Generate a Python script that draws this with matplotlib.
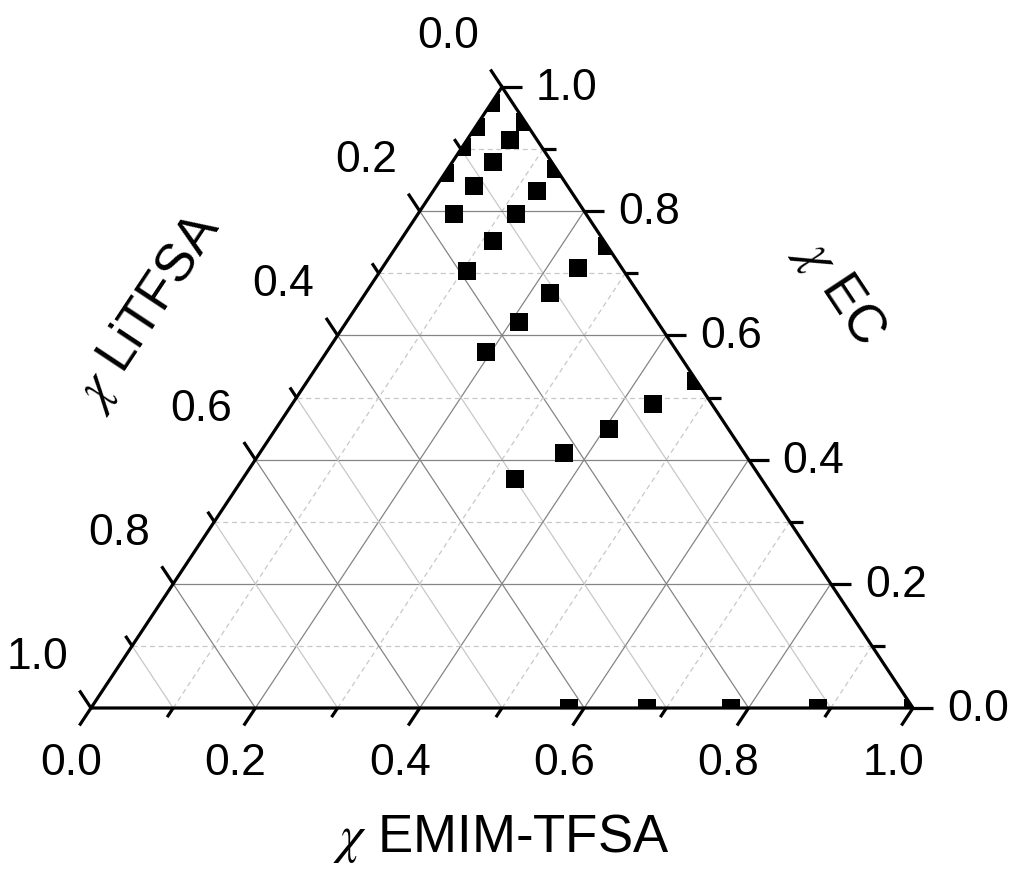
import matplotlib
matplotlib.use('Agg')
import matplotlib.pyplot as plt
from matplotlib.patches import Polygon
import numpy as np

plt.rcParams['font.family'] = ['Liberation Sans', 'DejaVu Sans']
plt.rcParams['mathtext.fontset'] = 'stix'

# mole fractions; x LiTFSA = 1 - EMIM-TFSA - EC
# EC-LiTFSA edge (no EMIM-TFSA)
emim_s0 = [0.0, 0.0, 0.0, 0.0]
ec_s0 = [0.862, 0.903, 0.936, 0.974]
# EC:EMIM ~ 18
emim_s1 = [0.044, 0.046, 0.049, 0.052, 0.056]
ec_s1 = [0.795, 0.840, 0.880, 0.915, 0.944]
# EC:EMIM ~ 6.6
emim_s2 = [0.105, 0.113, 0.120, 0.126, 0.132]
ec_s2 = [0.704, 0.752, 0.795, 0.833, 0.868]
# EC:EMIM ~ 3
emim_s3 = [0.193, 0.210, 0.225, 0.239, 0.256]
ec_s3 = [0.574, 0.622, 0.668, 0.708, 0.744]
# EC:EMIM ~ 1.1
emim_s4 = [0.332, 0.370, 0.405, 0.439, 0.473]
ec_s4 = [0.368, 0.410, 0.450, 0.489, 0.527]
# EMIM-TFSA-LiTFSA edge (no EC)
emim_s5 = [0.582, 0.677, 0.779, 0.885, 1.0]
ec_s5 = [0.0, 0.0, 0.0, 0.0, 0.0]

emim_all = emim_s0 + emim_s1 + emim_s2 + emim_s3 + emim_s4 + emim_s5
ec_all = ec_s0 + ec_s1 + ec_s2 + ec_s3 + ec_s4 + ec_s5

tick_values = [0.0, 0.2, 0.4, 0.6, 0.8, 1.0]


def tern(emim, ec):
    emim = np.asarray(emim, dtype=float)
    ec = np.asarray(ec, dtype=float)
    return emim + ec / 2.0, ec


# figure 1024x877 px, triangle spans 822 x 621 px
W, H = 1024, 877
PX, PY = 822.0, 621.0
fig = plt.figure(figsize=(W / 100, H / 100), dpi=100)
ax = fig.add_axes([91 / W, (H - 708) / H, PX / W, PY / H])
ax.set_xlim(0, 1)
ax.set_ylim(0, 1)
ax.axis('off')

major_c = '#858585'
minor_c = '#c8c8c8'

# grid
for i in range(1, 10):
    v = i / 10.0
    major = (i % 2 == 0)
    # constant EC (horizontal)
    x, y = tern([0, 1 - v], [v, v])
    ax.plot(x, y, color=major_c if major else minor_c, lw=0.9,
            ls='-' if major else (0, (4, 3)), zorder=1)
    # constant EMIM-TFSA
    x, y = tern([v, v], [0, 1 - v])
    ax.plot(x, y, color=major_c if major else minor_c, lw=0.9,
            ls='-' if major else (0, (4, 3)), zorder=1)
    # constant LiTFSA
    x, y = tern([1 - v, 0], [0, 1 - v])
    ax.plot(x, y, color=major_c if major else minor_c, lw=0.9, ls='-', zorder=1)

# data markers, clipped to the triangle
tri = Polygon([[0, 0], [1, 0], [0.5, 1]], closed=True, transform=ax.transData,
              facecolor='none', edgecolor='none')
ax.add_patch(tri)
x, y = tern(emim_all, ec_all)
pts, = ax.plot(x, y, 's', color='black', markersize=13, markeredgewidth=0, zorder=2)
pts.set_clip_path(tri)

# border
ax.plot([0, 1, 0.5, 0], [0, 0, 1, 0], color='black', lw=2.3, zorder=3,
        solid_joinstyle='miter', clip_on=False)

# ticks
for i in range(11):
    v = i / 10.0
    major = (i % 2 == 0)
    # bottom axis, EMIM-TFSA, ticks along (-0.5, -1)
    t = (21 if major else 11) / 744.7
    x0, y0 = tern(v, 0)
    ax.plot([x0, x0 - 0.5 * t], [y0, y0 - t], color='black', lw=2.3,
            solid_capstyle='butt', clip_on=False, zorder=3)
    # left axis, LiTFSA, ticks along (-0.5, +1)
    t = (21 if major else 12) / 744.7
    x0, y0 = tern(0, 1 - v)
    ax.plot([x0, x0 - 0.5 * t], [y0, y0 + t], color='black', lw=2.3,
            solid_capstyle='butt', clip_on=False, zorder=3)
    # right axis, EC, horizontal ticks
    t = (20 if major else 13) / PX
    x0, y0 = tern(1 - v, v)
    ax.plot([x0, x0 + t], [y0, y0], color='black', lw=2.3,
            solid_capstyle='butt', clip_on=False, zorder=3)

# tick labels
for v in tick_values:
    lab = '%.1f' % v
    x0, y0 = tern(v, 0)
    ax.text(x0 - 20 / PX, y0 - 67 / PY, lab, fontsize=32, ha='center', va='baseline')
    x0, y0 = tern(0, 1 - v)
    ax.text(x0 - 54 / PX, y0 + 39 / PY, lab, fontsize=32, ha='center', va='baseline')
    x0, y0 = tern(1 - v, v)
    ax.text(x0 + 34 / PX, y0 - 13 / PY, lab, fontsize=32, ha='left', va='baseline')

# axis titles
ang = np.degrees(np.arctan2(PY, PX / 2))
ax.text(0.499, -0.232, r'$\chi$ EMIM-TFSA', fontsize=38, ha='center', va='baseline')
ax.text(0.911, 0.670, r'$\chi$ EC', fontsize=38, ha='center', va='center',
        rotation=-ang)
ax.text(0.069, 0.639, r'$\chi$ LiTFSA', fontsize=38, ha='center', va='center',
        rotation=ang)

fig.savefig('out.png', dpi=100)
